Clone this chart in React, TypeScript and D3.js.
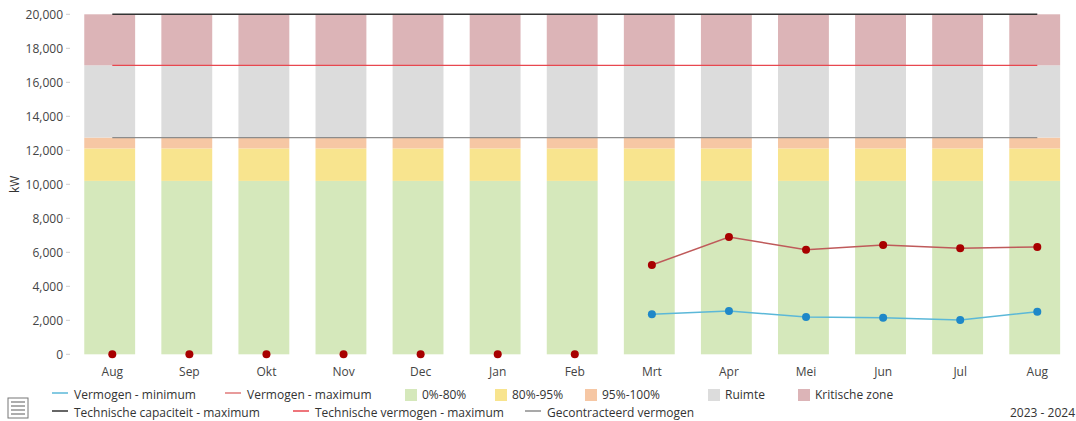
import React, { useEffect, useRef } from "react";
import * as d3 from "d3";

const months = ["Aug", "Sep", "Okt", "Nov", "Dec", "Jan", "Feb", "Mrt", "Apr", "Mei", "Jun", "Jul", "Aug"];
// stacked zones (kW), same for every month
const zoneNames = ["0%-80%", "80%-95%", "95%-100%", "Ruimte", "Kritische zone"];
const zoneTops = [10200, 12112, 12750, 17000, 20000];
const zoneColors = ["#d5e8bb", "#f8e48e", "#f6c7a4", "#dcdcdc", "#dcb4b7"];
// measured power
const vermogenMax = [0, 0, 0, 0, 0, 0, 0, 5250, 6900, 6150, 6430, 6240, 6310];
const vermogenMin = [null, null, null, null, null, null, null, 2350, 2550, 2200, 2150, 2020, 2500];
// reference lines
const technischeCapaciteit = 20000;
const technischeVermogen = 17000;
const gecontracteerd = 12750;
const yTicks = [0, 2000, 4000, 6000, 8000, 10000, 12000, 14000, 16000, 18000, 20000];

const W = 1076;
const H = 421;
const font = "'Open Sans', sans-serif";

const App = () => {
  const svgRef = useRef<SVGSVGElement | null>(null);

  useEffect(() => {
    const svg = d3.select(svgRef.current);
    svg.selectAll("*").remove();

    const idx = months.map((_, i) => i);
    const x = d3.scalePoint<number>().domain(idx).range([112.3, 1037.3]);
    const y = d3.scaleLinear().domain([0, 20000]).range([354.3, 14.3]);
    const barW = x.step() * 0.66;
    const barShift = -2.6;

    // columns
    const bars = svg.append("g");
    idx.forEach((i) => {
      zoneTops.forEach((top, k) => {
        const bottom = k === 0 ? 0 : zoneTops[k - 1];
        bars
          .append("rect")
          .attr("x", x(i)! + barShift - barW / 2)
          .attr("width", barW)
          .attr("y", y(top))
          .attr("height", y(bottom) - y(top))
          .attr("fill", zoneColors[k]);
      });
    });

    // reference lines
    const refs = [
      { v: gecontracteerd, c: "#8c8c8c", w: 1.2 },
      { v: technischeVermogen, c: "#e8474f", w: 1.2 },
      { v: technischeCapaciteit, c: "#333333", w: 1.5 },
    ];
    refs.forEach((r) => {
      svg
        .append("line")
        .attr("x1", x(0)!)
        .attr("x2", x(idx.length - 1)!)
        .attr("y1", y(r.v))
        .attr("y2", y(r.v))
        .attr("stroke", r.c)
        .attr("stroke-width", r.w);
    });

    // y axis
    const yAxis = svg.append("g");
    yTicks.forEach((t) => {
      yAxis
        .append("text")
        .attr("x", 63)
        .attr("y", y(t))
        .attr("dy", "0.35em")
        .attr("text-anchor", "end")
        .style("font-family", font)
        .style("font-size", "12px")
        .style("fill", "#444")
        .text(d3.format(",")(t));
      yAxis
        .append("line")
        .attr("x1", 66)
        .attr("x2", 70)
        .attr("y1", y(t))
        .attr("y2", y(t))
        .attr("stroke", "#ccc");
    });
    svg
      .append("text")
      .attr("transform", `translate(19, ${y(10000)}) rotate(-90)`)
      .attr("text-anchor", "middle")
      .style("font-family", font)
      .style("font-size", "12px")
      .style("fill", "#333")
      .text("kW");

    // x labels
    idx.forEach((i) => {
      svg
        .append("text")
        .attr("x", x(i)!)
        .attr("y", 372)
        .attr("dy", "0.35em")
        .attr("text-anchor", "middle")
        .style("font-family", font)
        .style("font-size", "12px")
        .style("fill", "#444")
        .text(months[i]);
    });

    // series lines
    const maxPts = idx.filter((i) => vermogenMax[i] > 0);
    const line = d3
      .line<number>()
      .x((i) => x(i)!)
      .y((i) => y((vermogenMax[i] as number)));
    svg
      .append("path")
      .attr("d", line(maxPts))
      .attr("fill", "none")
      .attr("stroke", "#bf5a5a")
      .attr("stroke-width", 1.5);
    const minPts = idx.filter((i) => vermogenMin[i] !== null);
    const lineMin = d3
      .line<number>()
      .x((i) => x(i)!)
      .y((i) => y(vermogenMin[i] as number));
    svg
      .append("path")
      .attr("d", lineMin(minPts))
      .attr("fill", "none")
      .attr("stroke", "#5bb8d8")
      .attr("stroke-width", 1.5);

    idx.forEach((i) => {
      svg
        .append("circle")
        .attr("cx", x(i)!)
        .attr("cy", y(vermogenMax[i]))
        .attr("r", 4)
        .attr("fill", "#a80000");
    });
    minPts.forEach((i) => {
      svg
        .append("circle")
        .attr("cx", x(i)!)
        .attr("cy", y(vermogenMin[i] as number))
        .attr("r", 4)
        .attr("fill", "#1f88c8");
    });

    // legend
    const legend = svg.append("g").style("font-family", font).style("font-size", "12px");
    const lineItems = [
      { name: "Vermogen - minimum", c: "#5bb8d8", x: 52, y: 395 },
      { name: "Vermogen - maximum", c: "#e07a7a", x: 225, y: 395 },
      { name: "Technische capaciteit - maximum", c: "#333333", x: 52, y: 413 },
      { name: "Technische vermogen - maximum", c: "#e8474f", x: 293, y: 413 },
      { name: "Gecontracteerd vermogen", c: "#8c8c8c", x: 525, y: 413 },
    ];
    lineItems.forEach((d) => {
      legend
        .append("line")
        .attr("x1", d.x)
        .attr("x2", d.x + 16)
        .attr("y1", d.y - 2)
        .attr("y2", d.y - 2)
        .attr("stroke", d.c)
        .attr("stroke-width", 1.5);
      legend
        .append("text")
        .attr("x", d.x + 22)
        .attr("y", d.y)
        .attr("dy", "0.3em")
        .style("fill", "#333")
        .text(d.name);
    });
    const boxX = [405, 495, 585, 708, 798];
    zoneNames.forEach((n, k) => {
      legend
        .append("rect")
        .attr("x", boxX[k])
        .attr("y", 389)
        .attr("width", 12)
        .attr("height", 12)
        .attr("fill", zoneColors[k]);
      legend
        .append("text")
        .attr("x", boxX[k] + 17)
        .attr("y", 395)
        .attr("dy", "0.3em")
        .style("fill", "#333")
        .text(n);
    });
    svg
      .append("text")
      .attr("x", 1075)
      .attr("y", 413)
      .attr("dy", "0.3em")
      .attr("text-anchor", "end")
      .style("font-family", font)
      .style("font-size", "12px")
      .style("fill", "#333")
      .text("2023 - 2024");

    // menu icon
    const menu = svg.append("g").attr("transform", "translate(8, 398)");
    menu.append("rect").attr("width", 20).attr("height", 20).attr("fill", "#fff").attr("stroke", "#777").attr("stroke-width", 1);
    [4, 8, 12, 16].forEach((ly) => {
      menu.append("line").attr("x1", 3).attr("x2", 17).attr("y1", ly).attr("y2", ly).attr("stroke", "#777").attr("stroke-width", 1.2);
    });
  }, []);

  return (
    <svg
      ref={svgRef}
      width={W}
      height={H}
      style={{ position: "absolute", left: 0, top: 0, background: "#fff" }}
    ></svg>
  );
};

export default App;
